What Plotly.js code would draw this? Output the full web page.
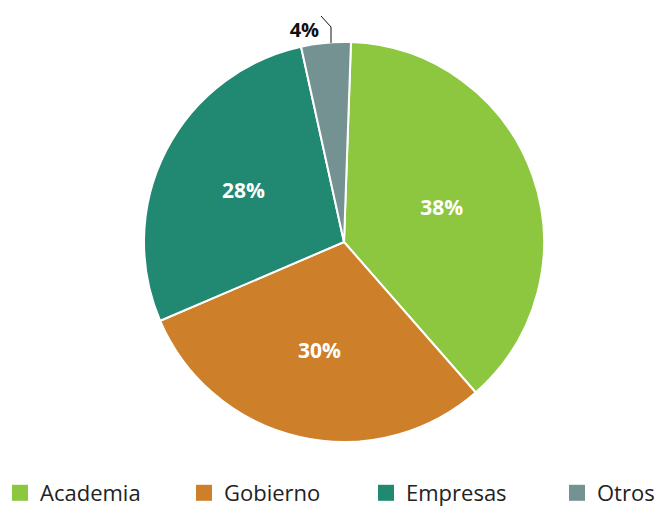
<!DOCTYPE html>
<html>
<head>
<meta charset="utf-8">
<script src="https://cdn.plot.ly/plotly-3.0.1.min.js"></script>
<style>html,body{margin:0;padding:0;background:#fff;}#chart{width:662px;height:510px;}</style>
</head>
<body>
<div id="chart"></div>
<script>
const categories = ["Academia", "Gobierno", "Empresas", "Otros"];
const values = [38, 30, 28, 4];
const colors = ["#8DC63F", "#CD7F2A", "#218871", "#759293"];
const textPositions = ["inside", "inside", "inside", "outside"];
const legendX = [0, 184, 366, 557];   // legend entry left edges (px)

const W = 662, H = 510, MB = 16;
const PH = H - MB;
const px = (x) => x / W;
const py = (y) => 1 - y / PH;

const pie = {
  type: "pie",
  labels: categories,
  values: values,
  sort: false,
  direction: "clockwise",
  rotation: 2,
  showlegend: false,
  marker: {colors: colors, line: {color: "#ffffff", width: 2}},
  textinfo: "percent",
  texttemplate: "%{percent:.0%}",
  textposition: textPositions,
  insidetextfont: {family: "Open Sans, sans-serif", size: 21, color: "#ffffff", weight: 700},
  outsidetextfont: {family: "Open Sans, sans-serif", size: 20, color: "#111111", weight: 700},
  insidetextorientation: "horizontal",
  hoverinfo: "label+percent",
  domain: {x: [px(144), px(544)], y: [py(442), py(42)]}
};

const legendTraces = categories.map((c, i) => ({
  type: "scatter",
  mode: "markers",
  x: [null], y: [null],
  name: c,
  showlegend: true,
  legend: i === 0 ? "legend" : "legend" + (i + 1),
  marker: {symbol: "square", size: 16, color: colors[i]},
  hoverinfo: "skip"
}));

const layout = {
  width: W,
  height: H,
  margin: {l: 0, r: 0, t: 0, b: MB, autoexpand: false},
  paper_bgcolor: "#ffffff",
  plot_bgcolor: "rgba(0,0,0,0)",
  xaxis: {visible: false},
  yaxis: {visible: false},
  showlegend: true,
  shapes: [{
    type: "path", xref: "paper", yref: "paper",
    path: "M " + px(321) + " " + py(16) + " L " + px(331) + " " + py(27) + " L " + px(331) + " " + py(43),
    line: {color: "#111111", width: 1}
  }]
};

categories.forEach((c, i) => {
  const key = i === 0 ? "legend" : "legend" + (i + 1);
  layout[key] = {
    orientation: "h",
    x: px(legendX[i]), y: py(493), xanchor: "left", yanchor: "middle",
    font: {family: "Open Sans, sans-serif", size: 22, color: "#222222"},
    bgcolor: "rgba(0,0,0,0)"
  };
});

Plotly.newPlot("chart", [pie].concat(legendTraces), layout, {displayModeBar: false, staticPlot: true});
</script>
</body>
</html>
